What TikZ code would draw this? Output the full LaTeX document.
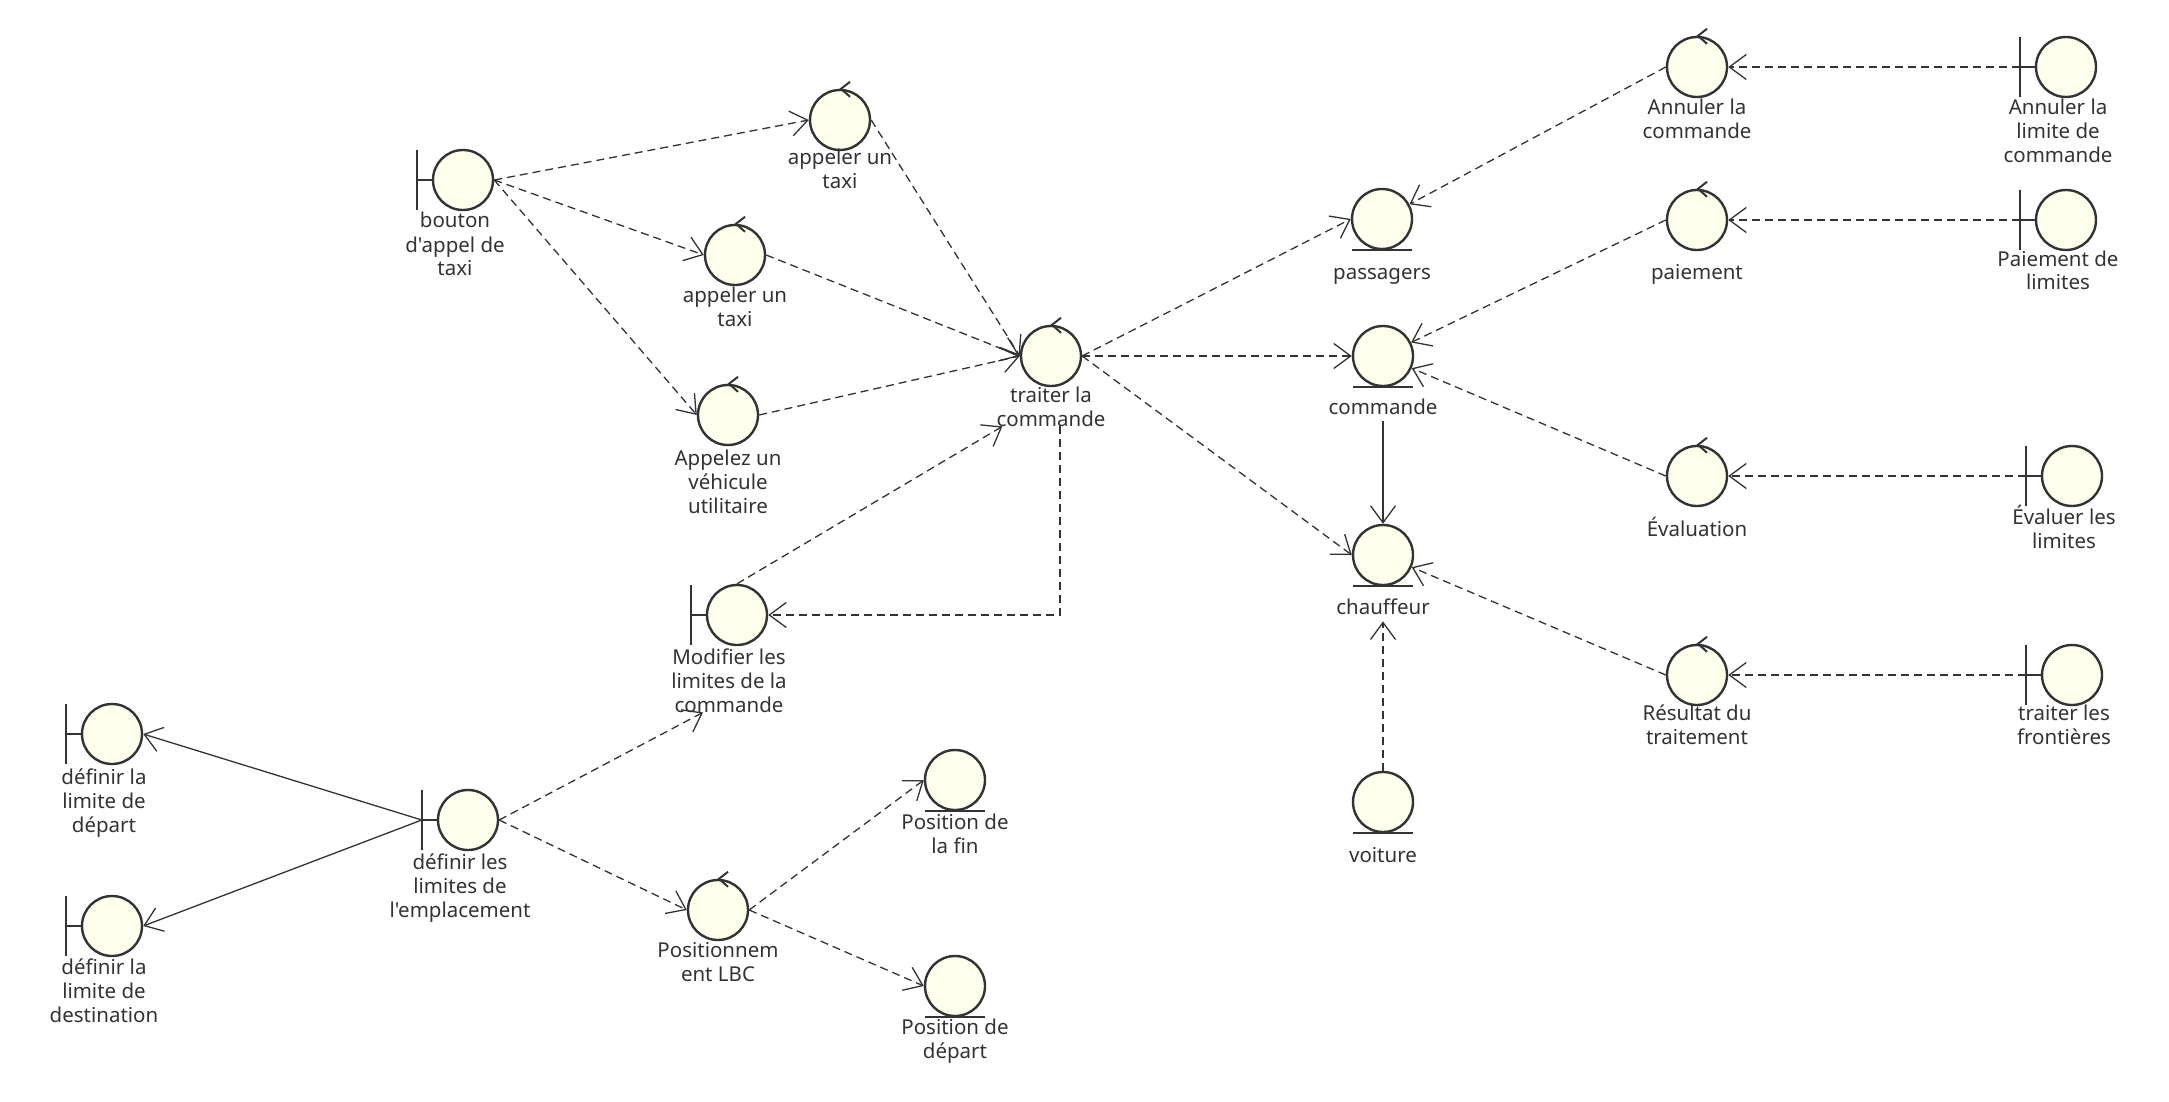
\documentclass[tikz,border=0pt]{standalone}
\usepackage{fontspec}
\setmainfont{Noto Sans}[Ligatures=TeXOff]
\usetikzlibrary{arrows.meta,calc}
\definecolor{ln}{HTML}{333333}
\definecolor{fl}{HTML}{FFFFEE}
\newcommand\mkctrl[3]{%
  \node[obj] (#1) at (#2,#3) {};
  \draw[ctlmark] ([xshift=1pt]#1.north) +(9,-7) -- +(0,0) -- +(9,8);
}
\newcommand\mkent[3]{%
  \node[obj] (#1) at (#2,#3) {};
  \draw[shp] (#1.south) +(-30,0) -- +(30,0);
}
\newcommand\mkbnd[3]{%
  \node[obj] (#1) at (#2,#3) {};
  \coordinate (#1-bar) at ([xshift=-15pt]#1.west);
  \draw[shp] (#1.west) -- (#1-bar) +(0,-30) -- +(0,30);
}
\begin{document}
\begin{tikzpicture}[x=1pt,y=-1pt,
  obj/.style={circle,draw=ln,fill=fl,line width=2.4pt,minimum size=60pt,inner sep=0pt},
  shp/.style={draw=ln,line width=2.4pt},
  ctlmark/.style={draw=ln,line width=2pt},
  lbl/.style={anchor=north,align=center,inner sep=0pt,text=ln,font=\fontsize{20.5}{24}\selectfont},
  dep/.style={draw=ln,line width=1.3pt,dash pattern=on 8pt off 5pt,-{Straight Barb[length=17pt,width=25pt]}},
  sol/.style={draw=ln,line width=1.3pt,-{Straight Barb[length=17pt,width=25pt]}},
]
\fill[white] (0,0) rectangle (2169,1102);
\useasboundingbox (0,0) rectangle (2169,1102);

% ---------- shapes ----------
\mkbnd{bouton}{463}{180}
\mkctrl{app1}{840}{120}
\mkctrl{app2}{735}{255}
\mkctrl{appz}{728}{415}
\mkctrl{traiter}{1051}{356}
\mkbnd{modif}{737}{615}
\mkbnd{empl}{468}{820}
\mkbnd{depB}{112}{734}
\mkbnd{destB}{112}{926}
\mkctrl{lbc}{718}{910}
\mkent{fin}{955}{780}
\mkent{depP}{955}{986}
\mkent{pass}{1382}{219}
\mkent{cmd}{1383}{356}
\mkent{chauf}{1383}{555}
\mkent{voit}{1383}{802}
\mkctrl{annC}{1697}{67}
\mkbnd{annLim}{2066}{67}
\mkctrl{paie}{1697}{220}
\mkbnd{paieLim}{2066}{220}
\mkctrl{evalC}{1697}{476}
\mkbnd{evalLim}{2072}{476}
\mkctrl{resC}{1697}{675}
\mkbnd{trfLim}{2072}{675}

% ---------- labels ----------
\node[lbl] (t-bouton) at (455,211) {\strut bouton\\d'appel de\\taxi};
\node[lbl] (t-app1) at (840,148) {\strut appeler un\\taxi};
\node[lbl] (t-app2) at (735,285) {\strut appeler un\\taxi};
\node[lbl] (t-appz) at (728,448) {\strut Appelez un\\véhicule\\utilitaire};
\node[lbl] (t-traiter) at (1051,385) {\strut traiter la\\commande};
\node[lbl] (t-modif) at (729,647) {\strut Modifier les\\limites de la\\commande};
\node[lbl] (t-empl) at (460,852) {\strut définir les\\limites de\\l'emplacement};
\node[lbl] (t-depB) at (104,767) {\strut définir la\\limite de\\départ};
\node[lbl] (t-destB) at (104,957) {\strut définir la\\limite de\\destination};
\node[lbl] (t-lbc) at (718,940) {\strut Positionnem\\ent LBC};
\node[lbl] (t-fin) at (955,812) {\strut Position de\\la fin};
\node[lbl] (t-depP) at (955,1017) {\strut Position de\\départ};
\node[lbl] (t-pass) at (1382,263) {\strut passagers};
\node[lbl] (t-cmd) at (1383,397) {\strut commande};
\node[lbl] (t-chauf) at (1383,597) {\strut chauffeur};
\node[lbl] (t-voit) at (1383,845) {\strut voiture};
\node[lbl] (t-annC) at (1697,98) {\strut Annuler la\\commande};
\node[lbl] (t-annLim) at (2058,98) {\strut Annuler la\\limite de\\commande};
\node[lbl] (t-paie) at (1697,263) {\strut paiement};
\node[lbl] (t-paieLim) at (2058,249) {\strut Paiement de\\limites};
\node[lbl] (t-evalC) at (1697,517) {\strut Évaluation};
\node[lbl] (t-evalLim) at (2064,505) {\strut Évaluer les\\limites};
\node[lbl] (t-resC) at (1697,703) {\strut Résultat du\\traitement};
\node[lbl] (t-trfLim) at (2064,703) {\strut traiter les\\frontières};

% ---------- connectors ----------
\draw[dep] (bouton.east) -- (app1.west);
\draw[dep] (bouton.east) -- (app2.west);
\draw[dep] (bouton.east) -- (appz.west);
\draw[dep] (app1.east) -- (traiter.west);
\draw[dep] (app2.east) -- (traiter.west);
\draw[dep] (appz.east) -- (traiter.west);
\draw[dep] (traiter.east) -- (pass.west);
\draw[dep] (traiter.east) -- (cmd.west);
\draw[dep] (traiter.east) -- (chauf.west);
\draw[dep] ([xshift=9pt]t-traiter.south) |- (modif.east);
\draw[dep] (modif.north) -- ($(t-traiter.south west)+(6,0)$);
\draw[dep] (empl.east) -- ($(t-modif.south)+(-26,0)$);
\draw[dep] (empl.east) -- (lbc.west);
\draw[sol] (empl-bar) -- (depB.east);
\draw[sol] (empl-bar) -- (destB.east);
\draw[dep] (lbc.east) -- (fin.west);
\draw[dep] (lbc.east) -- (depP.west);
\draw[dep] (annLim-bar) -- (annC.east);
\draw[dep] (paieLim-bar) -- (paie.east);
\draw[dep] (evalLim-bar) -- (evalC.east);
\draw[dep] (trfLim-bar) -- (resC.east);
\draw[dep] (annC.west) -- (pass);
\draw[dep] (paie.west) -- (cmd);
\draw[dep] (evalC.west) -- (cmd);
\draw[dep] (resC.west) -- (chauf);
\draw[sol] (t-cmd.south) -- (chauf.north);
\draw[dep] (voit.north) -- (t-chauf.south);
\end{tikzpicture}
\end{document}
